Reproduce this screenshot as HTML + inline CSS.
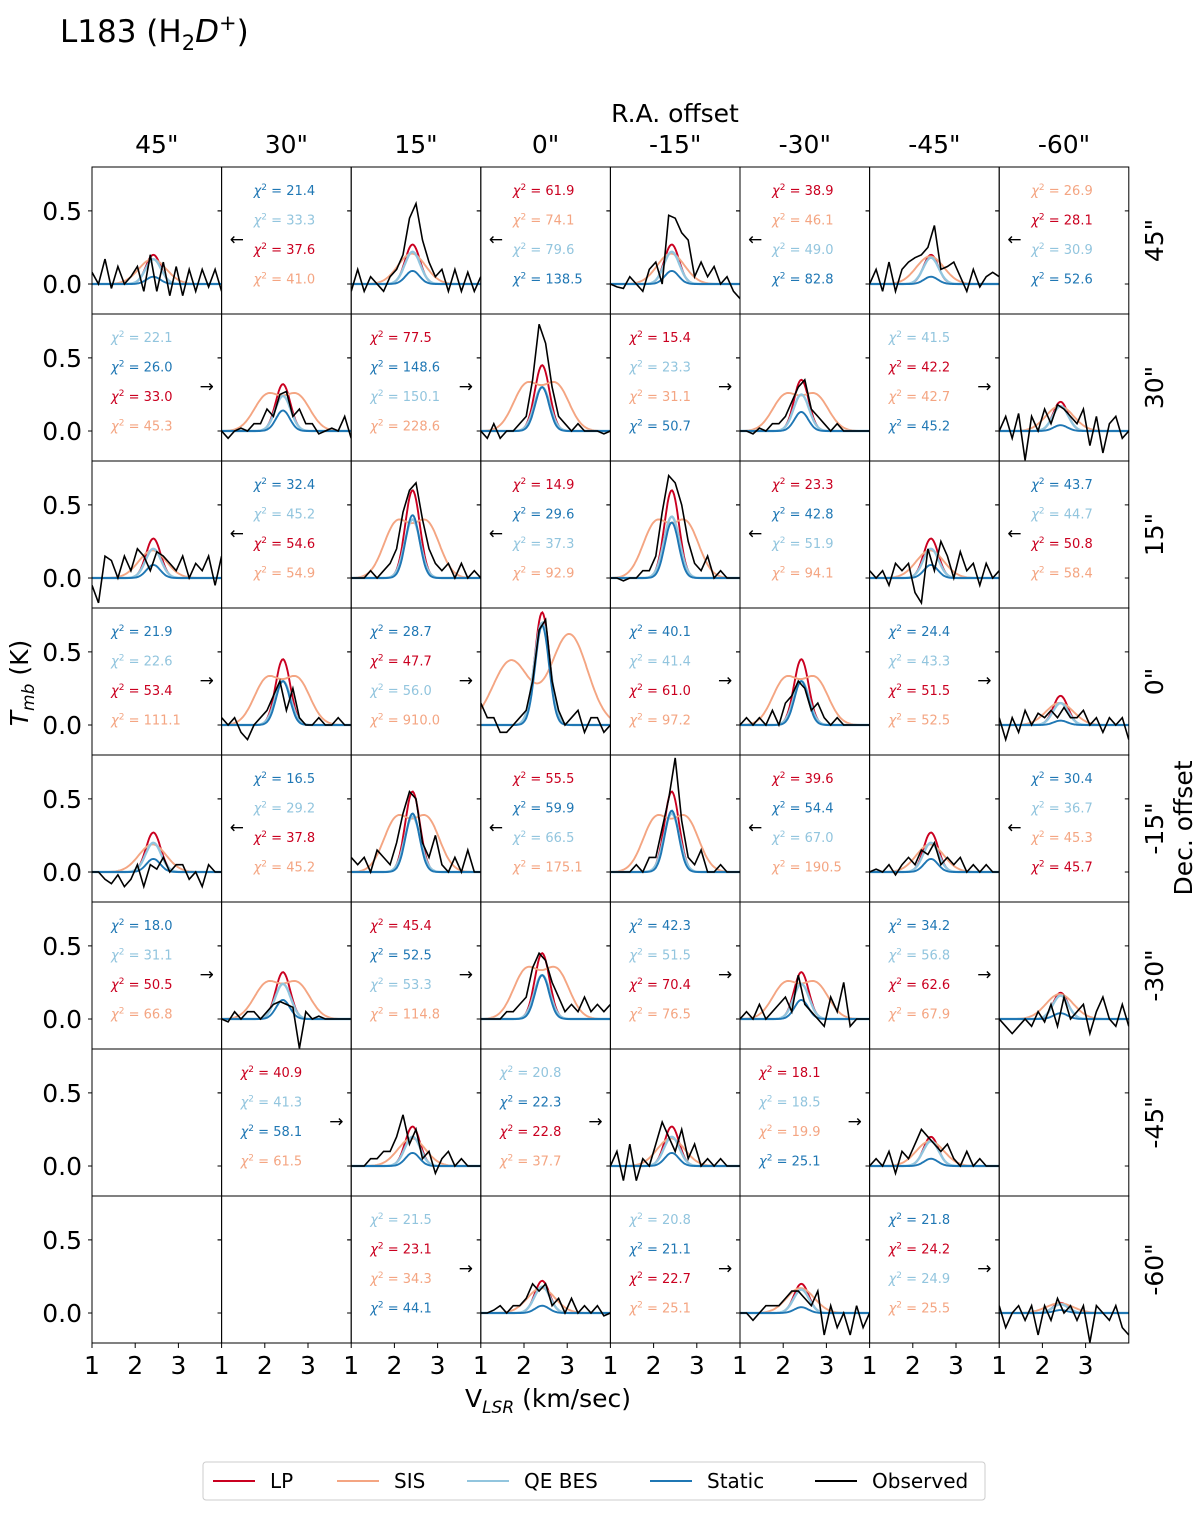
<!DOCTYPE html>
<html><head><meta charset="utf-8"><style>
body{margin:0;background:#fff}
svg text{font-family:"DejaVu Sans","Liberation Sans",sans-serif}
</style></head><body>
<svg id="c" width="1200" height="1511" viewBox="0 0 1200 1511" xmlns="http://www.w3.org/2000/svg">
<text x="60" y="42" font-size="31">L183 (H<tspan font-size="21" dy="8">2</tspan><tspan dy="-8" font-style="italic">D</tspan><tspan font-size="21" dy="-12">+</tspan><tspan dy="12">)</tspan></text>
<text x="675" y="122" font-size="25" text-anchor="middle">R.A. offset</text>
<text x="548" y="1407" font-size="25" text-anchor="middle">V<tspan font-size="17" dy="6" font-style="italic">LSR</tspan><tspan dy="-6"> (km/sec)</tspan></text>
<text transform="translate(28,683) rotate(-90)" font-size="25" text-anchor="middle"><tspan font-style="italic">T</tspan><tspan font-size="17" dy="6" font-style="italic">mb</tspan><tspan dy="-6"> (K)</tspan></text>
<text transform="translate(1192,828) rotate(-90)" font-size="25" text-anchor="middle">Dec. offset</text>
<g id="legend">
<rect x="203" y="1462" width="782" height="38" fill="#fff" stroke="#ccc" rx="3"/>
</g>
</svg>
<script>
const colLabels=['45"','30"','15"','0"','-15"','-30"','-45"','-60"'];
const rowLabels=['45"','30"','15"','0"','-15"','-30"','-45"','-60"'];
const yTicks=[0.0,0.5];
const yTickLabels=['0.0','0.5'];
const xTicks=[1,2,3];
const xTickLabels=['1','2','3'];
const COL={LP:'#ca0020',SIS:'#f4a582',QE:'#92c5de',St:'#1f77b4',Obs:'#000'};

const specRow=[0,0,0,0,1,1,1,1,2,2,2,2,3,3,3,3,4,4,4,4,5,5,5,5,6,6,6,7,7,7];
const specCol=[0,2,4,6,1,3,5,7,0,2,4,6,1,3,5,7,0,2,4,6,1,3,5,7,2,4,6,3,5,7];
const lpAmp=[0.2,0.27,0.27,0.2,0.32,0.45,0.35,0.2,0.27,0.6,0.6,0.27,0.45,0.77,0.45,0.2,0.27,0.55,0.55,0.27,0.32,0.45,0.32,0.18,0.27,0.27,0.2,0.22,0.2,0.07];
const qeAmp=[0.17,0.22,0.22,0.18,0.24,0.3,0.25,0.17,0.2,0.4,0.42,0.2,0.3,0.7,0.3,0.15,0.2,0.38,0.4,0.2,0.24,0.3,0.24,0.16,0.2,0.2,0.17,0.18,0.16,0.06];
const stAmp=[0.05,0.09,0.09,0.05,0.14,0.3,0.13,0.04,0.09,0.43,0.38,0.09,0.3,0.68,0.3,0.03,0.09,0.4,0.42,0.09,0.13,0.3,0.13,0.04,0.09,0.09,0.05,0.05,0.04,0.02];
const sisLA=[0.09,0.11,0.11,0.1,0.24,0.31,0.24,0.09,0.1,0.37,0.37,0.1,0.31,0.44,0.31,0.08,0.1,0.36,0.36,0.1,0.24,0.33,0.24,0.09,0.1,0.1,0.09,0.09,0.09,0.035];
const sisRA=[0.09,0.11,0.11,0.1,0.24,0.31,0.24,0.09,0.1,0.37,0.37,0.1,0.31,0.62,0.31,0.08,0.1,0.36,0.36,0.1,0.24,0.33,0.24,0.09,0.1,0.1,0.09,0.09,0.09,0.035];
const sisLc=[2.3,2.3,2.3,2.3,2.05,2.05,2.05,2.3,2.3,2.05,2.05,2.3,2.05,1.7,2.05,2.3,2.3,2.05,2.05,2.3,2.05,2.05,2.05,2.3,2.3,2.3,2.3,2.3,2.3,2.3];
const sisRc=[2.5,2.5,2.5,2.5,2.75,2.75,2.75,2.5,2.5,2.75,2.75,2.5,2.75,3.05,2.75,2.5,2.5,2.75,2.75,2.5,2.75,2.75,2.75,2.5,2.5,2.5,2.5,2.5,2.5,2.5];
const sisSig=[0.3,0.3,0.3,0.3,0.3,0.3,0.3,0.3,0.3,0.3,0.3,0.3,0.3,0.42,0.3,0.3,0.3,0.3,0.3,0.3,0.3,0.3,0.3,0.3,0.3,0.3,0.3,0.3,0.3,0.3];
const obsVel=[1.0,1.15,1.3,1.45,1.6,1.75,1.9,2.05,2.2,2.35,2.5,2.65,2.8,2.95,3.1,3.25,3.4,3.55,3.7,3.85,4.0];
const obs=[
[0.08,0.0,0.17,-0.03,0.12,0.0,0.05,0.12,-0.05,0.2,-0.05,0.15,-0.08,0.12,-0.08,0.1,-0.05,0.1,-0.02,0.1,-0.05],
[-0.05,0.1,-0.05,0.05,0.0,-0.05,0.05,0.1,0.2,0.45,0.55,0.3,0.15,0.05,0.1,-0.05,0.1,-0.05,0.08,-0.05,0.05],
[0.0,-0.02,-0.03,0.05,0.0,-0.05,0.1,0.15,0.0,0.47,0.45,0.35,0.3,0.05,0.15,0.05,0.12,0.0,0.05,-0.05,-0.1],
[0.0,0.1,-0.05,0.15,-0.05,0.1,0.15,0.18,0.2,0.25,0.4,0.1,0.12,0.15,0.05,-0.05,0.1,-0.02,0.05,0.08,0.05],
[0.0,-0.05,0.0,0.02,0.0,0.05,0.05,0.15,0.1,0.25,0.27,0.1,0.15,0.05,0.05,-0.02,0.0,0.02,0.0,0.1,-0.05],
[0.0,-0.05,0.05,-0.05,0.0,0.0,0.05,0.1,0.35,0.73,0.6,0.3,0.1,0.05,0.0,0.05,0.0,0.0,0.0,-0.02,0.0],
[0.0,0.0,-0.02,0.02,0.0,0.05,0.05,0.1,0.2,0.3,0.35,0.15,0.1,0.05,0.0,0.05,0.0,0.0,0.0,0.0,0.0],
[0.0,0.1,-0.05,0.12,-0.2,0.1,0.0,0.15,0.05,0.18,0.15,0.1,0.05,0.15,-0.1,0.1,-0.15,0.05,0.1,-0.05,0.0],
[-0.05,-0.17,0.15,0.12,0.0,0.15,0.05,0.2,0.15,0.05,0.18,0.15,0.1,0.05,0.15,0.0,0.1,0.05,0.15,-0.05,0.15],
[0.0,0.0,0.0,0.05,0.0,0.05,0.1,0.2,0.45,0.6,0.65,0.4,0.2,0.1,0.05,0.1,0.0,0.1,0.0,0.05,0.0],
[0.0,0.0,-0.02,0.0,0.0,0.05,0.05,0.15,0.45,0.7,0.65,0.5,0.25,0.1,0.05,0.15,0.0,0.05,0.0,0.0,0.0],
[0.05,0.0,0.05,-0.05,0.1,0.05,0.1,-0.1,-0.17,0.2,0.05,0.25,0.15,0.0,0.18,0.05,0.1,-0.05,0.1,0.0,0.05],
[0.05,0.0,0.05,-0.05,-0.1,0.0,0.05,0.1,0.2,0.3,0.1,0.25,0.05,0.0,0.0,0.05,0.0,0.0,0.05,0.0,0.0],
[0.15,0.05,0.05,-0.05,-0.05,0.0,0.05,0.1,0.3,0.65,0.72,0.3,0.1,0.0,0.05,0.1,-0.05,0.05,0.05,-0.05,0.0],
[0.0,0.05,0.0,0.05,0.0,0.1,0.0,0.15,0.2,0.3,0.25,0.1,0.15,0.05,0.0,0.05,0.0,0.0,0.0,0.0,0.0],
[0.05,-0.1,0.05,-0.05,0.1,0.0,0.08,0.05,0.1,0.05,0.12,0.05,0.05,0.1,0.0,0.05,-0.05,0.05,0.0,0.05,-0.1],
[0.0,0.0,-0.05,-0.08,-0.02,-0.1,-0.05,0.05,-0.1,0.05,0.02,0.1,0.0,0.05,0.05,-0.05,0.0,-0.1,0.05,0.0,0.0],
[0.1,0.05,0.1,0.0,0.15,0.1,0.05,0.2,0.4,0.55,0.5,0.2,0.1,0.25,0.05,0.0,0.1,0.0,0.15,0.0,0.0],
[0.0,0.0,0.0,0.0,0.05,0.0,0.1,0.1,0.3,0.5,0.78,0.35,0.1,0.05,0.15,0.0,0.0,0.05,0.0,0.0,0.0],
[0.0,0.02,0.0,0.05,-0.02,0.05,0.1,0.05,0.15,0.12,0.2,0.05,0.1,0.05,0.1,0.0,0.05,0.0,0.05,0.0,0.0],
[0.0,-0.02,0.05,0.0,0.05,0.05,0.0,0.05,0.1,0.12,0.1,0.08,-0.2,0.05,0.0,0.02,0.0,0.0,0.0,0.0,0.0],
[0.0,0.0,0.0,0.0,0.05,0.05,0.1,0.15,0.35,0.45,0.4,0.25,0.15,0.05,0.1,0.05,0.15,0.05,0.1,0.05,0.1],
[0.0,0.05,0.0,0.1,0.0,0.05,0.1,0.15,0.05,0.3,0.1,0.05,0.0,-0.05,0.15,0.05,0.25,-0.05,0.0,0.0,0.0],
[0.0,-0.05,-0.1,-0.05,0.0,-0.05,0.05,-0.02,0.1,-0.05,0.15,0.0,0.05,0.1,-0.1,0.05,0.15,0.0,-0.05,0.1,-0.05],
[0.0,0.0,0.0,0.05,0.05,0.1,0.1,0.2,0.35,0.15,0.25,0.05,0.1,-0.05,0.05,0.1,0.0,0.05,0.0,0.0,0.0],
[0.0,0.1,-0.1,0.15,-0.1,0.05,0.0,0.15,0.3,0.2,0.1,0.25,0.05,0.15,0.0,0.05,0.0,0.05,0.0,0.0,0.0],
[0.0,0.05,0.0,0.1,-0.05,0.1,0.05,0.15,0.25,0.2,0.15,0.1,0.15,0.05,0.0,0.1,0.0,0.05,0.0,0.0,0.0],
[0.0,0.0,0.02,0.05,0.0,0.05,0.05,0.1,0.2,0.15,0.2,0.05,0.1,0.0,0.1,0.0,0.05,0.0,0.05,-0.02,0.0],
[0.0,0.0,-0.05,0.0,0.05,0.05,0.05,0.1,0.15,0.15,0.1,0.05,0.15,-0.15,0.05,-0.1,0.0,-0.15,0.05,-0.1,0.0],
[0.05,-0.1,0.0,0.05,-0.05,0.05,-0.15,0.05,-0.05,0.1,0.0,0.05,-0.05,0.05,-0.2,0.05,0.0,-0.05,0.05,-0.1,-0.15]
];

const txtRow=[0,0,0,0,1,1,1,1,2,2,2,2,3,3,3,3,4,4,4,4,5,5,5,5,6,6,6,7,7,7];
const txtCol=[1,3,5,7,0,2,4,6,1,3,5,7,0,2,4,6,1,3,5,7,0,2,4,6,1,3,5,2,4,6];
const txtDir=['L','L','L','L','R','R','R','R','L','L','L','L','R','R','R','R','L','L','L','L','R','R','R','R','R','R','R','R','R','R'];
const txtLines=[
['St 21.4','QE 33.3','LP 37.6','SIS 41.0'],['LP 61.9','SIS 74.1','QE 79.6','St 138.5'],['LP 38.9','SIS 46.1','QE 49.0','St 82.8'],['SIS 26.9','LP 28.1','QE 30.9','St 52.6'],
['QE 22.1','St 26.0','LP 33.0','SIS 45.3'],['LP 77.5','St 148.6','QE 150.1','SIS 228.6'],['LP 15.4','QE 23.3','SIS 31.1','St 50.7'],['QE 41.5','LP 42.2','SIS 42.7','St 45.2'],
['St 32.4','QE 45.2','LP 54.6','SIS 54.9'],['LP 14.9','St 29.6','QE 37.3','SIS 92.9'],['LP 23.3','St 42.8','QE 51.9','SIS 94.1'],['St 43.7','QE 44.7','LP 50.8','SIS 58.4'],
['St 21.9','QE 22.6','LP 53.4','SIS 111.1'],['St 28.7','LP 47.7','QE 56.0','SIS 910.0'],['St 40.1','QE 41.4','LP 61.0','SIS 97.2'],['St 24.4','QE 43.3','LP 51.5','SIS 52.5'],
['St 16.5','QE 29.2','LP 37.8','SIS 45.2'],['LP 55.5','St 59.9','QE 66.5','SIS 175.1'],['LP 39.6','St 54.4','QE 67.0','SIS 190.5'],['St 30.4','QE 36.7','SIS 45.3','LP 45.7'],
['St 18.0','QE 31.1','LP 50.5','SIS 66.8'],['LP 45.4','St 52.5','QE 53.3','SIS 114.8'],['St 42.3','QE 51.5','LP 70.4','SIS 76.5'],['St 34.2','QE 56.8','LP 62.6','SIS 67.9'],
['LP 40.9','QE 41.3','St 58.1','SIS 61.5'],['QE 20.8','St 22.3','LP 22.8','SIS 37.7'],['LP 18.1','QE 18.5','SIS 19.9','St 25.1'],
['QE 21.5','LP 23.1','SIS 34.3','St 44.1'],['QE 20.8','St 21.1','LP 22.7','SIS 25.1'],['St 21.8','LP 24.2','QE 24.9','SIS 25.5']
];
const legendKeys=['LP','SIS','QE BES','Static','Observed'];

const NS='http://www.w3.org/2000/svg';
const svg=document.getElementById('c');
const X0=92,Y0=167,PW=129.6,PH=147,VMIN=1,VMAX=4,TMIN=-0.205,TMAX=0.8;
function pxL(c){return X0+c*PW;}
function pyT(r){return Y0+r*PH;}
function xs(c,v){return pxL(c)+(v-VMIN)/(VMAX-VMIN)*PW;}
function ys(r,t){return pyT(r)+(TMAX-t)/(TMAX-TMIN)*PH;}
function mk(tag,attrs,parent){const e=document.createElementNS(NS,tag);for(const k in attrs)e.setAttribute(k,attrs[k]);(parent||svg).appendChild(e);return e;}
function g(v,a,c,s){return a*Math.exp(-(v-c)*(v-c)/(2*s*s));}
const defs=mk('defs',{});
for(let r=0;r<8;r++)for(let c=0;c<8;c++){
  const cp=mk('clipPath',{id:'cp'+r+'_'+c},defs);
  mk('rect',{x:pxL(c),y:pyT(r),width:PW,height:PH},cp);
}
colLabels.forEach((l,c)=>{const t=mk('text',{x:pxL(c)+PW/2,y:153,'font-size':25,'text-anchor':'middle'});t.textContent=l;

});
rowLabels.forEach((l,r)=>{const t=mk('text',{transform:'translate('+1163+','+(pyT(r)+PH/2)+') rotate(-90)','font-size':25,'text-anchor':'middle'});t.textContent=l;

});
for(let r=0;r<8;r++){yTicks.forEach((v,i)=>{const y=ys(r,v);
  const t=mk('text',{x:82,y:y+9,'font-size':25,'text-anchor':'end'});t.textContent=yTickLabels[i];
  
  
  for(let c=0;c<8;c++){mk('line',{x1:pxL(c)-4,x2:pxL(c),y1:y,y2:y,stroke:'#000','stroke-width':1});
   mk('line',{x1:pxL(c)+PW-4,x2:pxL(c)+PW,y1:y,y2:y,stroke:'#000','stroke-width':1});}
});}
for(let c=0;c<8;c++){xTicks.forEach((v,i)=>{const x=xs(c,v);
 mk('line',{x1:x,x2:x,y1:1343,y2:1348,stroke:'#000'});
 const t=mk('text',{x:x,y:1374,'font-size':25,'text-anchor':'middle'});t.textContent=xTickLabels[i];
 
 });}
function path(r,c,vs,fn){let d='';vs.forEach((v,i)=>{d+=(i?'L':'M')+xs(c,v).toFixed(1)+','+ys(r,fn(v,i)).toFixed(1);});return d;}
const fine=[];for(let i=0;i<=120;i++)fine.push(VMIN+i*(VMAX-VMIN)/120);
specRow.forEach((r,k)=>{const c=specCol[k];
 const grp=mk('g',{'clip-path':'url(#cp'+r+'_'+c+')'});
 
 
 const a=mk('path',{d:path(r,c,fine,v=>g(v,lpAmp[k],2.42,0.17)),fill:'none',stroke:COL.LP,'stroke-width':1.9},grp);
 
 
 const b=mk('path',{d:path(r,c,fine,v=>g(v,sisLA[k],sisLc[k],sisSig[k])+g(v,sisRA[k],sisRc[k],sisSig[k])),fill:'none',stroke:COL.SIS,'stroke-width':1.9},grp);
 
 
 const q=mk('path',{d:path(r,c,fine,v=>g(v,qeAmp[k],2.42,0.18)),fill:'none',stroke:COL.QE,'stroke-width':2.4},grp);
 
 
 const s=mk('path',{d:path(r,c,fine,v=>g(v,stAmp[k],2.42,0.16)),fill:'none',stroke:COL.St,'stroke-width':1.9},grp);
 
 
 const o=mk('path',{d:path(r,c,obsVel,(v,i)=>obs[k][i]),fill:'none',stroke:'#000','stroke-width':1.6},grp);
 
 
});
const keyCol={LP:COL.LP,SIS:COL.SIS,QE:COL.QE,St:COL.St};
txtRow.forEach((r,k)=>{const c=txtCol[k];const x0=pxL(c),y0=pyT(r);
 const tx=txtDir[k]==='L'?x0+32:x0+19;
 txtLines[k].forEach((ln,j)=>{const [key,val]=ln.split(' ');
  const t=mk('text',{x:tx,y:y0+28+j*29.5,'font-size':13,fill:keyCol[key]});
  t.innerHTML='<tspan font-style="italic">χ</tspan><tspan font-size="9" dy="-5">2</tspan><tspan dy="5"> = '+val+'</tspan>';
  
  
 });
 const ar=mk('text',{x:txtDir[k]==='L'?x0+8:x0+PW-22,y:y0+78,'font-size':17});
 ar.textContent=txtDir[k]==='L'?'←':'→';
 
 
});
for(let r=0;r<8;r++)for(let c=0;c<8;c++){const f=mk('rect',{x:pxL(c),y:pyT(r),width:PW,height:PH,fill:'none',stroke:'#000','stroke-width':1});
 
 }
const lg=document.getElementById('legend');
const lgX=[213,337,467,650,815],lgC=[COL.LP,COL.SIS,COL.QE,COL.St,'#000'];
legendKeys.forEach((l,i)=>{
 mk('line',{x1:lgX[i],x2:lgX[i]+42,y1:1481,y2:1481,stroke:lgC[i],'stroke-width':2},lg);
 const t=mk('text',{x:lgX[i]+57,y:1488,'font-size':20},lg);t.textContent=l;
 
 
});
</script>
</body></html>
